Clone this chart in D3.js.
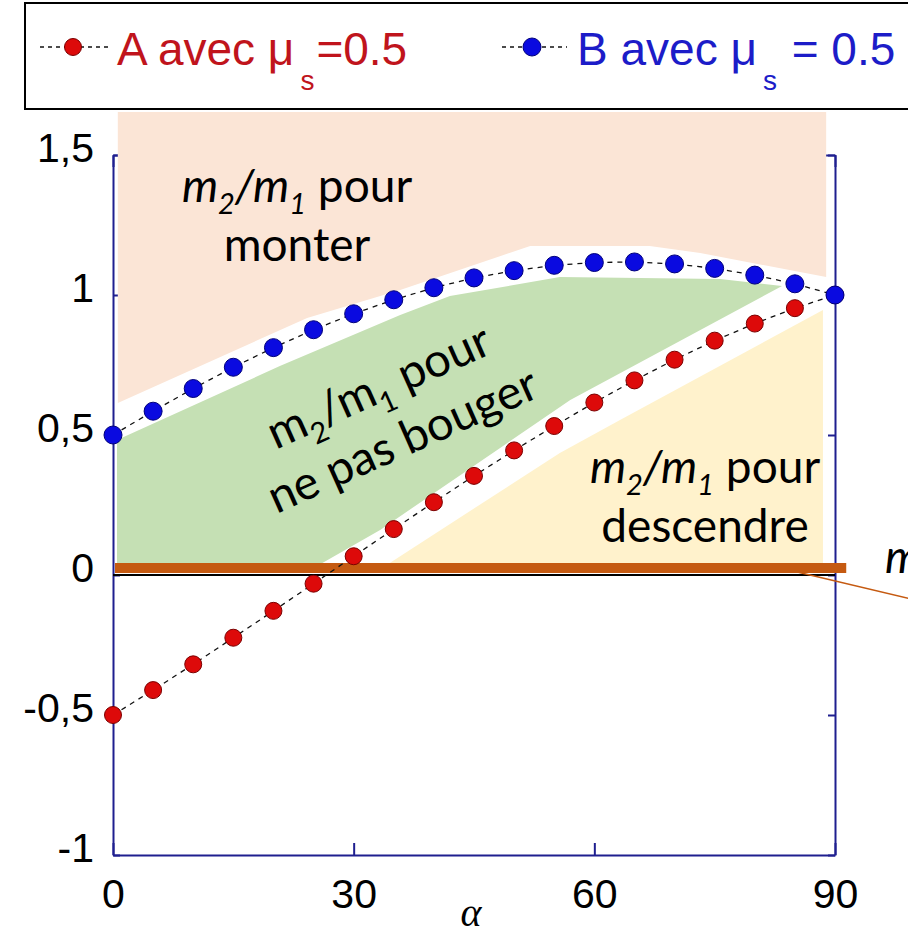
<!DOCTYPE html>
<html><head><meta charset="utf-8">
<script src="https://cdn.jsdelivr.net/npm/d3@7"></script>
<style>body{margin:0;background:#fff;overflow:hidden}</style>
</head><body>
<svg id="c" width="908" height="938"></svg>
<script>
// ---- data ----
const alphas  = [0,5,10,15,20,25,30,35,40,45,50,55,60,65,70,75,80,85,90];
const seriesA = [-0.500,-0.411,-0.319,-0.224,-0.128,-0.031,0.067,0.164,0.260,0.354,0.445,0.532,0.616,0.695,0.769,0.837,0.898,0.953,1.000];
const seriesB = [0.500,0.585,0.666,0.742,0.812,0.876,0.933,0.983,1.026,1.061,1.087,1.106,1.116,1.118,1.111,1.095,1.071,1.040,1.000];
const xTicks = [0,30,60,90];
const xTickLabels = ["0","30","60","90"];
const yTicks = [-1,-0.5,0,0.5,1,1.5];
const yTickLabels = ["-1","-0,5","0","0,5","1","1,5"];
const legendMain = ["A avec \u03bc","B avec \u03bc"];
const legendSub = ["s","s"];
const legendTail = ["=0.5"," = 0.5"];
// annotation zones, as [alpha, value] vertices
const zoneMonter = [[0.6,1.654],[88.9,1.654],[88.9,1.064],[73.2,1.150],[66.9,1.175],[52.0,1.175],[35.8,1.018],[24.2,0.918],[0.6,0.614]];
const zoneBouger = [[0.5,0.482],[20.8,0.746],[35.8,0.929],[42.0,0.996],[55.7,1.064],[75.7,1.057],[83.4,1.032],[57.0,0.625],[33.3,0.161],[26.1,0.043],[0.5,0.043]];
const zoneDescendre = [[34.5,0.043],[55.7,0.436],[63.2,0.554],[88.5,0.946],[88.5,0.043]];
const thresholdLine = [[0.25,0.025],[91.4,0.025]];
const pointerLine = [[85.3,0.011],[100.6,-0.093]];

// ---- setup ----
const svg = d3.select("#c");
const x = d3.scaleLinear([0,90],[113,835]);
const y = d3.scaleLinear([-1,1.5],[855,155]);
const axisColor = "#1f1f8f";
const tickFont = "'Liberation Sans', Arial, sans-serif";
const noteFont = "Lato, 'Open Sans', sans-serif";

// axes (box)
const gL = svg.append("g").attr("transform",`translate(${x(0)},0)`)
  .call(d3.axisLeft(y).tickValues(yTicks).tickSize(-7).tickSizeOuter(0).tickPadding(19)
    .tickFormat((d,i)=>yTickLabels[i]));
const gR = svg.append("g").attr("transform",`translate(${x(90)},0)`)
  .call(d3.axisRight(y).tickValues(yTicks).tickSize(-7).tickSizeOuter(0).tickFormat(""));
const gB = svg.append("g").attr("transform",`translate(0,${y(-1)})`)
  .call(d3.axisBottom(x).tickValues(xTicks).tickSize(-12).tickSizeOuter(0).tickPadding(24)
    .tickFormat((d,i)=>xTickLabels[i]));
const gT = svg.append("g").attr("transform",`translate(0,${y(1.5)})`)
  .call(d3.axisTop(x).tickValues(xTicks).tickSize(-12).tickSizeOuter(0).tickFormat(""));
[gL,gR,gB,gT].forEach(g=>{
  g.selectAll("path,line").attr("stroke",axisColor).attr("stroke-width",2);
  g.selectAll("text").attr("fill","#000").style("font-family",tickFont).style("font-size","41px");
});
gL.selectAll("text").attr("dy","0.17em");

// zones
const poly = d3.line().x(d=>x(d[0])).y(d=>y(d[1]));
svg.append("path").attr("d",poly(zoneMonter)+"Z").attr("fill","#fbe5d6");
svg.append("path").attr("d",poly(zoneBouger)+"Z").attr("fill","#c5e0b4");
svg.append("path").attr("d",poly(zoneDescendre)+"Z").attr("fill","#fff2cc");

// zero line
svg.append("line").attr("x1",x(0)).attr("x2",x(90)).attr("y1",y(0)).attr("y2",y(0))
  .attr("stroke","#000").attr("stroke-width",2);
// orange threshold line + pointer
svg.append("path").attr("d",poly(thresholdLine)).attr("stroke","#c55a11").attr("stroke-width",10).attr("fill","none");
svg.append("path").attr("d",poly(pointerLine)).attr("stroke","#c55a11").attr("stroke-width",1.5).attr("fill","none");

// series
const series = [
  {vals:seriesA, fill:"#dd0a0a", stroke:"#7a0000", r:8.5},
  {vals:seriesB, fill:"#0a0ae0", stroke:"#00007a", r:9}
];
const ln = d3.line().x((d,i)=>x(alphas[i])).y(d=>y(d));
series.forEach(s=>{
  svg.append("path").attr("d",ln(s.vals)).attr("fill","none").attr("stroke","#111")
    .attr("stroke-width",1.3).attr("stroke-dasharray","5,5");
  svg.append("g").selectAll("circle").data(s.vals).join("circle")
    .attr("cx",(d,i)=>x(alphas[i])).attr("cy",d=>y(d)).attr("r",s.r)
    .attr("fill",s.fill).attr("stroke",s.stroke).attr("stroke-width",1);
});

// x axis title
svg.append("text").attr("x",471).attr("y",926).attr("text-anchor","middle")
  .style("font-family","'Liberation Serif', 'DejaVu Serif', serif").style("font-style","italic")
  .style("font-size","40px").text("\u03b1");

// legend
svg.append("rect").attr("x",25).attr("y",3).attr("width",1000).attr("height",106)
  .attr("fill","#fff").attr("stroke","#000").attr("stroke-width",2);
const legendPos = [{lx1:40,lx2:110,mx:73,tx:117,color:"#c0141c",s:series[0]},
                   {lx1:502,lx2:567,mx:532,tx:577,color:"#1c1cc8",s:series[1]}];
legendPos.forEach((p,i)=>{
  svg.append("line").attr("x1",p.lx1).attr("x2",p.lx2).attr("y1",47).attr("y2",47)
    .attr("stroke","#111").attr("stroke-width",1.3).attr("stroke-dasharray","4,4");
  svg.append("circle").attr("cx",p.mx).attr("cy",47).attr("r",p.s.r)
    .attr("fill",p.s.fill).attr("stroke",p.s.stroke);
  const t = svg.append("text").attr("x",p.tx).attr("y",65).attr("fill",p.color)
    .style("font-family",tickFont).style("font-size","46px");
  t.append("tspan").text(legendMain[i]);
  t.append("tspan").attr("dx",6).attr("dy",25).style("font-size","28px").text(legendSub[i]);
  t.append("tspan").attr("dx",2).attr("dy",-25).text(legendTail[i]);
});

// annotation labels
function ratioLabel(t, italic, tail){
  const st = italic ? "italic" : "normal";
  t.append("tspan").style("font-style",st).text("m");
  t.append("tspan").style("font-style",st).style("font-size","29px").attr("dy",12).text("2");
  t.append("tspan").style("font-style",st).attr("dy",-12).text("/m");
  t.append("tspan").style("font-style",st).style("font-size","29px").attr("dy",12).text("1");
  t.append("tspan").attr("dy",-12).text(tail);
}
function block(cx, cy, rot, italic, line2, size){
  const g = svg.append("g").attr("transform",`translate(${cx},${cy}) rotate(${rot})`)
    .style("font-family",noteFont).style("font-size",size+"px").attr("fill","#000");
  ratioLabel(g.append("text").attr("text-anchor","middle"), italic, " pour");
  g.append("text").attr("text-anchor","middle").attr("y",59).text(line2);
}
block(297,202,0,true,"monter",46);
block(385,401,-24,false,"ne pas bouger",47);
block(705,483,0,true,"descendre",46);
svg.append("text").attr("x",885).attr("y",573).style("font-family",noteFont)
  .style("font-size","46px").style("font-style","italic").text("m");
</script>
</body></html>
